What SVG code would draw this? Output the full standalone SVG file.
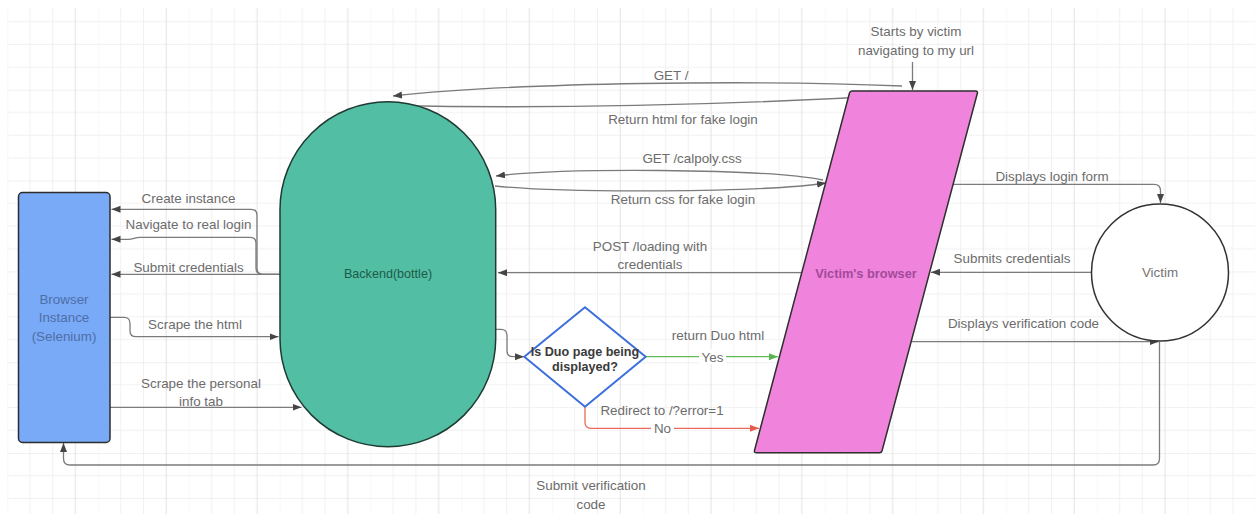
<svg xmlns="http://www.w3.org/2000/svg" width="1255" height="514" viewBox="0 0 1255 514">
  <style>
    text { font-family: "Liberation Sans", Arial, sans-serif; text-anchor: middle; dominant-baseline: central; }
    .lbl { font-size: 13.4px; fill: #6c6c6c; }
    .edge { fill: none; stroke: #7b7b7b; stroke-width: 1.3; marker-end: url(#arrow); }
    .edge-plain { fill: none; stroke: #7b7b7b; stroke-width: 1.3; }
    .yes { fill: none; stroke: #63bb57; stroke-width: 1.3; marker-end: url(#arrow-green); }
    .no { fill: none; stroke: #ea6a5d; stroke-width: 1.3; marker-end: url(#arrow-red); }
  </style>
  <defs>
    <pattern id="grid" patternUnits="userSpaceOnUse" x="7.3" y="-1" width="90.8" height="90.8">
      <path d="M0 0V90.8M22.7 0V90.8M45.4 0V90.8M0 22.7H90.8M0 45.4H90.8M0 68.1H90.8" stroke="#f1f1f1" stroke-width="1"/>
      <path d="M68.1 0V90.8M0 0H90.8" stroke="#e3e3e3" stroke-width="1"/>
    </pattern>
    <marker id="arrow" markerUnits="userSpaceOnUse" markerWidth="10" markerHeight="8" refX="9" refY="3.5" orient="auto">
      <path d="M0 0L9 3.5L0 7z" fill="#454545"/>
    </marker>
    <marker id="arrow-green" markerUnits="userSpaceOnUse" markerWidth="10" markerHeight="8" refX="9" refY="3.5" orient="auto">
      <path d="M0 0L9 3.5L0 7z" fill="#58b44c"/>
    </marker>
    <marker id="arrow-red" markerUnits="userSpaceOnUse" markerWidth="10" markerHeight="8" refX="9" refY="3.5" orient="auto">
      <path d="M0 0L9 3.5L0 7z" fill="#e85a4b"/>
    </marker>
  </defs>

  <!-- canvas -->
  <rect width="1255" height="514" fill="#ffffff"/>
  <rect x="7" y="8" width="1248" height="506" fill="url(#grid)"/>

  <!-- connectors -->
  <g id="connectors">
    <path class="edge" d="M912.5 62V90"/>
    <path class="edge" d="M902 86C760 80 520 82 393 96"/>
    <path class="edge" d="M392 105.5C600 110 780 102 903 95"/>
    <path class="edge" d="M823 180C760 168 560 168 496 176"/>
    <path class="edge" d="M495 186C560 193 760 193 826 183"/>
    <path class="edge" d="M953 184.3H1154Q1160.5 184.3 1160.5 190.8V203"/>
    <path class="edge" d="M1091.7 272.3H931"/>
    <path class="edge" d="M911 341.7H1158.5"/>
    <path class="edge" d="M1159.5 341.7V458.5Q1159.5 465 1153 465H70Q63.5 465 63.5 458.5V443"/>
    <path class="edge" d="M280 274.3H263Q257 274.3 257 268.3V215.3Q257 209.3 251 209.3H111.5"/>
    <path class="edge" d="M280 274.3H262Q256 274.3 256 268.3V243.3Q256 237.3 250 237.3H140C134 237.3 134 239.3 128 239.3H111.5"/>
    <path class="edge" d="M280 274.3H111.5"/>
    <path class="edge" d="M110 317.3H124Q130 317.3 130 323.3V330.7Q130 336.7 136 336.7H278.5"/>
    <path class="edge" d="M110 407.3H301.5"/>
    <path class="edge" d="M802 272.7H498"/>
    <path class="edge" d="M495.7 329.3H501Q507 329.3 507 335.3V350.7Q507 356.7 513 356.7H524"/>
    <path class="yes" d="M645.7 356.7H778"/>
    <path class="no" d="M585 406.7V422.3Q585 428.3 591 428.3H759"/>

    <text class="lbl" x="916" y="31.5">Starts by victim</text>
    <text class="lbl" x="916" y="50">navigating to my url</text>
    <text class="lbl" x="671" y="75">GET /</text>
    <text class="lbl" x="683" y="119">Return html for fake login</text>
    <text class="lbl" x="692" y="158">GET /calpoly.css</text>
    <text class="lbl" x="683" y="199">Return css for fake login</text>
    <text class="lbl" x="1052" y="176">Displays login form</text>
    <text class="lbl" x="1012" y="258.5">Submits credentials</text>
    <text class="lbl" x="1023.5" y="323.5">Displays verification code</text>
    <text class="lbl" x="188.5" y="198.5">Create instance</text>
    <text class="lbl" x="188.5" y="224.5">Navigate to real login</text>
    <text class="lbl" x="188.5" y="267.5">Submit credentials</text>
    <text class="lbl" x="195" y="324.5">Scrape the html</text>
    <text class="lbl" x="201" y="383">Scrape the personal</text>
    <text class="lbl" x="201" y="401">info tab</text>
    <text class="lbl" x="650" y="246">POST /loading with</text>
    <text class="lbl" x="650" y="264">credentials</text>
    <text class="lbl" x="718" y="335">return Duo html</text>
    <rect x="699" y="349" width="27" height="15" fill="#ffffff"/>
    <text class="lbl" x="712.5" y="357">Yes</text>
    <text class="lbl" x="662" y="410">Redirect to /?error=1</text>
    <rect x="651" y="421" width="23" height="15" fill="#ffffff"/>
    <text class="lbl" x="662.5" y="428.5">No</text>
    <text class="lbl" x="591" y="485">Submit verification</text>
    <text class="lbl" x="591" y="504">code</text>
  </g>

  <!-- Selenium browser instance -->
  <g id="browser-instance">
    <rect x="18.5" y="192.5" width="91.5" height="250" rx="4" fill="#78aaf8" stroke="#2c2c2c" stroke-width="1.5"/>
    <text x="64" y="299" font-size="13.4" fill="#4f6ea6">Browser</text>
    <text x="64" y="317.5" font-size="13.4" fill="#4f6ea6">Instance</text>
    <text x="64" y="336" font-size="13.4" fill="#4f6ea6">(Selenium)</text>
  </g>

  <!-- Bottle backend -->
  <g id="backend">
    <rect x="280" y="101.7" width="215.7" height="345" rx="107.85" fill="#52bea3" stroke="#1f3a33" stroke-width="1.5"/>
    <text x="388" y="274" font-size="12.6" fill="#1e5a4b">Backend(bottle)</text>
  </g>

  <!-- Victim's browser -->
  <g id="victims-browser">
    <path d="M852 91H975.5Q978 91 977.3 93.5L882 451Q881.5 452.7 879.5 452.7H756.5Q754 452.7 754.5 450.5L849.5 93Q850 91 852 91Z" fill="#f084dc" stroke="#2f2f2f" stroke-width="1.5" stroke-linejoin="round"/>
    <text x="866" y="273" font-size="12.8" font-weight="bold" fill="#a24a99">Victim's browser</text>
  </g>

  <!-- Victim -->
  <g id="victim">
    <circle cx="1160" cy="272.5" r="68.5" fill="#ffffff" stroke="#333333" stroke-width="1.5"/>
    <text x="1160" y="272.5" font-size="13.4" fill="#767676">Victim</text>
  </g>

  <!-- Duo check -->
  <g id="duo-check">
    <path d="M585 307.3L645.7 356.7L585 406.7L524.3 356.7Z" fill="#ffffff" stroke="#3d6fdc" stroke-width="2" stroke-linejoin="round"/>
    <text x="585" y="351.7" font-size="12.6" font-weight="bold" fill="#3a3a3a">Is Duo page being</text>
    <text x="585" y="366.5" font-size="12.6" font-weight="bold" fill="#3a3a3a">displayed?</text>
  </g>
</svg>
